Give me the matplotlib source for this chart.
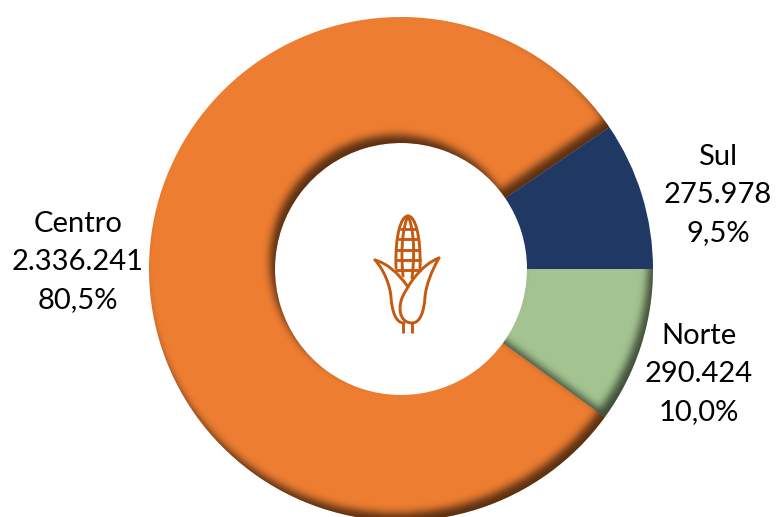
# Donut chart - corn production by region
import numpy as np
import matplotlib
matplotlib.use('Agg')
import matplotlib.pyplot as plt
from matplotlib.path import Path
from matplotlib.patches import PathPatch

regions = ['Norte', 'Centro', 'Sul']
values = [290424, 2336241, 275978]
percents = ['10,0%', '80,5%', '9,5%']
colors = ['#A3C490', '#ED7D31', '#1F3864']

plt.rcParams['font.family'] = ['Lato', 'DejaVu Sans']

fig = plt.figure(figsize=(7.77, 5.17), dpi=100)
ax = fig.add_axes([0, 0, 1, 1])

cx, cy = 401, 248
R = 252
wedges, _ = ax.pie(values, colors=colors, startangle=0, counterclock=False,
                   center=(cx, cy), radius=R, frame=True,
                   wedgeprops=dict(width=R / 2, linewidth=0))
ax.set_xlim(0, 777)
ax.set_ylim(0, 517)
ax.axis('off')


# Inner shadow: offset the wedge mask up-left, blur it, darken what is left
def inner_shadow(wedge, strength, dx=-5, dy=8, sigma=4.0):
    pad = 40
    xs = np.arange(cx - R - pad, cx + R + pad) + 0.5
    ys = np.arange(cy - R - pad, cy + R + pad) + 0.5
    gx, gy = np.meshgrid(xs, ys)
    pts = np.column_stack([gx.ravel(), gy.ravel()])
    mask = wedge.get_path().contains_points(pts).reshape(gx.shape).astype(float)
    shifted = np.roll(np.roll(mask, dy, axis=0), dx, axis=1)
    fy = np.fft.fftfreq(mask.shape[0])[:, None]
    fx = np.fft.rfftfreq(mask.shape[1])[None, :]
    kernel = np.exp(-2 * (np.pi * sigma) ** 2 * (fx ** 2 + fy ** 2))
    blurred = np.fft.irfft2(np.fft.rfft2(shifted) * kernel, s=mask.shape)
    rgba = np.zeros(mask.shape + (4,))
    rgba[..., 3] = np.clip(strength * (1 - blurred), 0, 1)
    im = ax.imshow(rgba, origin='lower', zorder=2, interpolation='bilinear',
                   extent=(xs[0] - 0.5, xs[-1] + 0.5, ys[0] - 0.5, ys[-1] + 0.5))
    im.set_clip_path(wedge)


inner_shadow(wedges[0], 0.6)
inner_shadow(wedges[1], 0.62)
ax.set_xlim(0, 777)
ax.set_ylim(0, 517)

# Data labels
label_pos = [(699, 143), (78, 255), (718, 322)]
for name, val, pct, (lx, ly) in zip(regions, values, percents, label_pos):
    txt = f'{val:,}'.replace(',', '.')
    ax.text(lx, ly, f'{name}\n{txt}\n{pct}', ha='center', va='center',
            fontsize=21, color='black', linespacing=1.58, zorder=5)


# Corn icon, traced in reference pixels
def P(x, y):
    return (x, 517 - y)


def stroke(points, codes):
    path = Path([P(*p) for p in points], codes)
    ax.add_patch(PathPatch(path, fill=False, edgecolor='#C55A11', linewidth=2.1,
                           capstyle='round', joinstyle='round', zorder=4))


M, L, C3, C4 = Path.MOVETO, Path.LINETO, Path.CURVE3, Path.CURVE4

# ear outline and kernel lines
stroke([(396, 268), (395, 235), (401, 216), (408, 216), (415, 216), (421, 235), (420, 268)],
       [M, C4, C4, C4, C4, C4, C4])
stroke([(403, 276), (400, 245), (404, 224), (408, 216), (412, 224), (416, 245), (412, 278)],
       [M, C4, C4, C4, C4, C4, C4])
for y, half in [(229, 7), (239, 9), (250, 11), (260, 12), (270, 12)]:
    stroke([(408 - half, y), (408 + half, y)], [M, L])

# left leaf
stroke([(375, 260), (393, 265), (408, 287)], [M, C3, C3])
stroke([(375, 260), (384, 270), (390, 285), (391, 297), (392, 312), (396, 323), (404, 323)],
       [M, C4, C4, C4, C4, C4, C4])
# right leaf
stroke([(439, 258), (420, 265), (407, 287), (402, 298), (397, 312), (402, 323), (412, 323)],
       [M, C4, C4, C4, C4, C4, C4])
stroke([(439, 258), (432, 270), (426, 285), (425, 297), (424, 312), (420, 323), (412, 323)],
       [M, C4, C4, C4, C4, C4, C4])
# stalk
stroke([(403, 323), (403, 332)], [M, L])
stroke([(412, 323), (412, 332)], [M, L])

plt.savefig('out.png', dpi=100)
